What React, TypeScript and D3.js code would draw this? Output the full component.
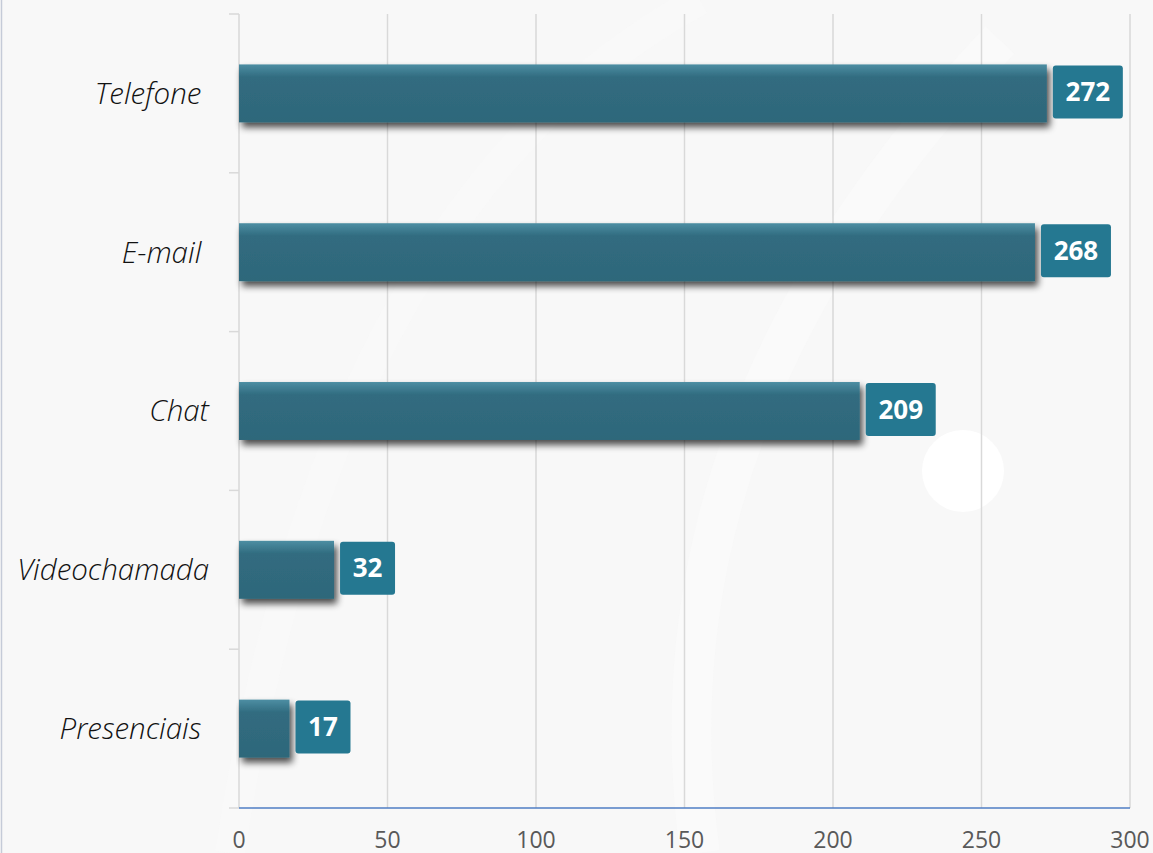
import React from "react";
import * as d3 from "d3";

const categories = ["Telefone ", "E-mail ", "Chat", "Videochamada", "Presenciais "];
const values = [272, 268, 209, 32, 17];
const xTicks = [0, 50, 100, 150, 200, 250, 300];

const W = 1153;
const H = 853;
const M = { left: 239, right: 1130, top: 14, bottom: 808 };

export default function App() {
  const x = d3.scaleLinear().domain([0, 300]).range([M.left, M.right]);
  const y = d3
    .scaleBand<string>()
    .domain(categories)
    .range([M.top, M.bottom])
    .paddingInner(0.635)
    .paddingOuter(0.3175);
  const bw = y.bandwidth();
  const step = y.step();
  const boundaries = d3.range(categories.length + 1).map((i) => M.top + i * step);
  const font = "'Open Sans', 'Noto Sans', sans-serif";

  return (
    <svg
      width={W}
      height={H}
      style={{ position: "absolute", left: 0, top: 0, display: "block" }}
    >
      <defs>
        <linearGradient id="barg" x1="0" y1="0" x2="0" y2="1">
          <stop offset="0" stopColor="#4d8ea3" />
          <stop offset="0.22" stopColor="#316c80" />
          <stop offset="1" stopColor="#2e677a" />
        </linearGradient>
        <filter id="shadow" x="-10%" y="-30%" width="130%" height="180%">
          <feGaussianBlur in="SourceAlpha" stdDeviation="3.5" />
          <feOffset dx="3" dy="5" result="b" />
          <feComponentTransfer>
            <feFuncA type="linear" slope="0.7" />
          </feComponentTransfer>
          <feMerge>
            <feMergeNode />
            <feMergeNode in="SourceGraphic" />
          </feMerge>
        </filter>
      </defs>
      <rect x={0} y={0} width={W} height={H} fill="#f8f8f8" />
      {/* faint decorative arcs */}
      <path
        d="M 700 853 Q 640 420 1000 40"
        fill="none"
        stroke="#fbfbfb"
        strokeWidth={40}
        opacity={0.5}
      />
      <path
        d="M 230 853 Q 330 200 700 0"
        fill="none"
        stroke="#fbfbfb"
        strokeWidth={30}
        opacity={0.4}
      />
      <circle cx={963} cy={471} r={41} fill="#ffffff" />
      <line x1={1.5} y1={0} x2={1.5} y2={H} stroke="#c5cbd8" strokeWidth={1.5} />

      {/* gridlines */}
      {xTicks.slice(1).map((t) => (
        <line
          key={"g" + t}
          x1={x(t)}
          x2={x(t)}
          y1={M.top}
          y2={M.bottom}
          stroke="#d9d9d9"
          strokeWidth={1.5}
        />
      ))}
      {/* y axis */}
      <line x1={M.left} x2={M.left} y1={M.top} y2={M.bottom} stroke="#d9d9d9" strokeWidth={1.5} />
      {boundaries.map((b, i) => (
        <line key={"yt" + i} x1={M.left - 10} x2={M.left} y1={b} y2={b} stroke="#d9d9d9" strokeWidth={1.5} />
      ))}
      {/* x axis */}
      <line x1={M.left} x2={M.right} y1={M.bottom} y2={M.bottom} stroke="#4f7ec4" strokeWidth={1.5} />

      {/* bars */}
      {categories.map((c, i) => {
        const y0 = y(c)!;
        return (
          <rect
            key={"b" + c}
            x={x(0)}
            y={y0}
            width={x(values[i]) - x(0)}
            height={bw}
            fill="url(#barg)"
            filter="url(#shadow)"
          />
        );
      })}

      {/* data labels */}
      {categories.map((c, i) => {
        const y0 = y(c)!;
        const txt = String(values[i]);
        const bwid = txt.length === 3 ? 70 : 55;
        const bx = x(values[i]) + 6;
        return (
          <g key={"l" + c}>
            <rect
              x={bx}
              y={y0 + 1}
              width={bwid}
              height={53}
              rx={3}
              fill="#257891"
            />
            <text
              x={bx + bwid / 2}
              y={y0 + 1 + 26.5}
              dy="0.35em"
              textAnchor="middle"
              fill="#ffffff"
              fontFamily={font}
              fontWeight={700}
              fontSize={26}
            >
              {txt}
            </text>
          </g>
        );
      })}

      {/* category labels */}
      {categories.map((c) => (
        <text
          key={"c" + c}
          x={209}
          y={y(c)! + bw / 2}
          dy="0.35em"
          textAnchor="end"
          fontFamily={font}
          fontStyle="italic"
          fontWeight={300}
          fontSize={29.5}
          fill="#111111"
          style={{ whiteSpace: "pre" }}
        >
          {c}
        </text>
      ))}

      {/* x tick labels */}
      {xTicks.map((t) => (
        <text
          key={"x" + t}
          x={x(t)}
          y={840}
          dy="0.35em"
          textAnchor="middle"
          fontFamily={font}
          fontSize={23}
          fill="#595959"
        >
          {t}
        </text>
      ))}
    </svg>
  );
}
